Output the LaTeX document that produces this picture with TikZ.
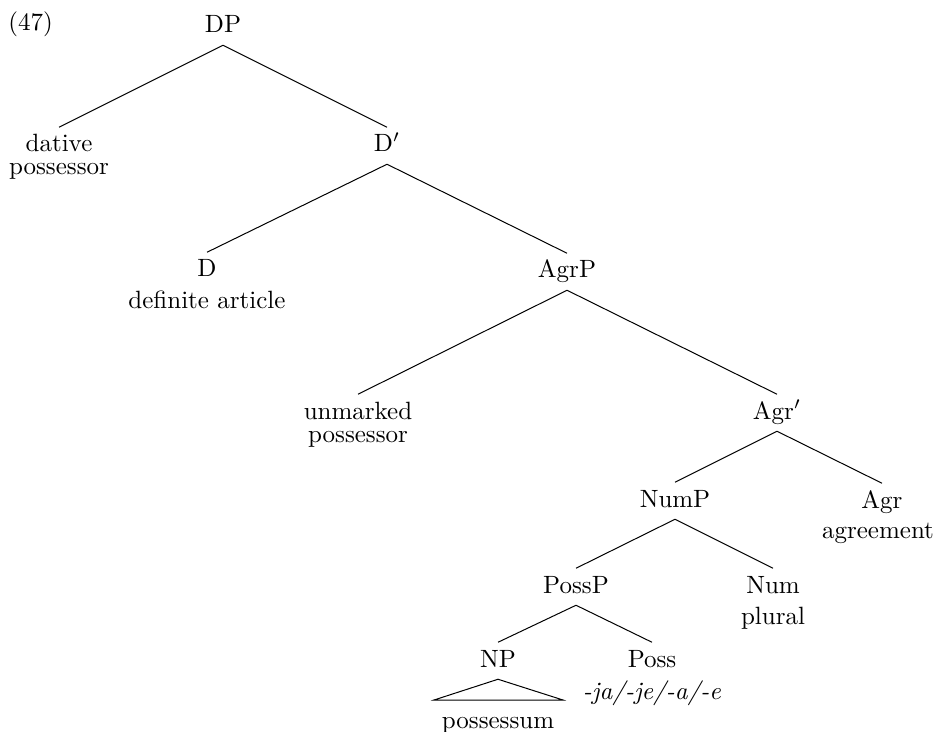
\documentclass[tikz,border=0pt]{standalone}
\usepackage{tikz}
\usetikzlibrary{positioning}
\tikzset{
    cat/.style={anchor=base, text height=7pt, text depth=2pt, inner xsep=1pt, inner ysep=2.7pt},
    gloss/.style={anchor=base, inner sep=0pt},
    branch/.style={draw=black},
    roof/.style={draw=black},
}

\begin{document}
\begin{tikzpicture}[x=0.4pt, y=-0.4pt]
\useasboundingbox (0,0) rectangle (937,731);
\node [gloss, anchor=base west] (exnum) at (8,31) {(47)};

\node [cat] (DP) at (223,33) {DP};
\node [cat] (dat) at (59,152) {dative};
\node [gloss] (datposs) at (59,175) {possessor};
\node [cat] (Dbar) at (387,152) {D$'$};

\draw [branch] (DP.south)--(dat.north);
\draw [branch] (DP.south)--(Dbar.north);

\node [cat] (D) at (207,277) {D};
\node [gloss] (Dgl) at (207,309) {definite article};
\node [cat] (AgrP) at (567,278) {AgrP};

\draw [branch] (Dbar.south)--(D.north);
\draw [branch] (Dbar.south)--(AgrP.north);

\node [cat] (unm) at (358,419) {unmarked};
\node [gloss] (unmposs) at (358,442) {possessor};
\node [cat] (Agrbar) at (777,419) {Agr$'$};

\draw [branch] (AgrP.south)--(unm.north);
\draw [branch] (AgrP.south)--(Agrbar.north);

\node [cat] (NumP) at (675,507) {NumP};
\node [cat] (Agr) at (882,508) {Agr};
\node [gloss] (Agrgl) at (878,538) {agreement};

\draw [branch] (Agrbar.south)--(NumP.north);
\draw [branch] (Agrbar.south)--(Agr.north);

\node [cat] (PossP) at (576,593) {PossP};
\node [cat] (Num) at (773,593) {Num};
\node [gloss] (Numgl) at (773,624) {plural};

\draw [branch] (NumP.south)--(PossP.north);
\draw [branch] (NumP.south)--(Num.north);

\node [cat] (NP) at (498,667) {NP};
\node [cat] (Poss) at (652,667) {Poss};
\node [gloss] (Possgl) at (652,699) {\textit{-ja/-je/-a/-e}};

\draw [branch] (PossP.south)--(NP.north);
\draw [branch] (PossP.south)--(Poss.north);

% roof over the possessum
\coordinate (roofL) at (434,700);
\coordinate (roofR) at (563,700);
\draw [roof] (NP.south)--(roofL)--(roofR)--cycle;
\node [gloss] (possum) at (498,728) {possessum};
\end{tikzpicture}
\end{document}
